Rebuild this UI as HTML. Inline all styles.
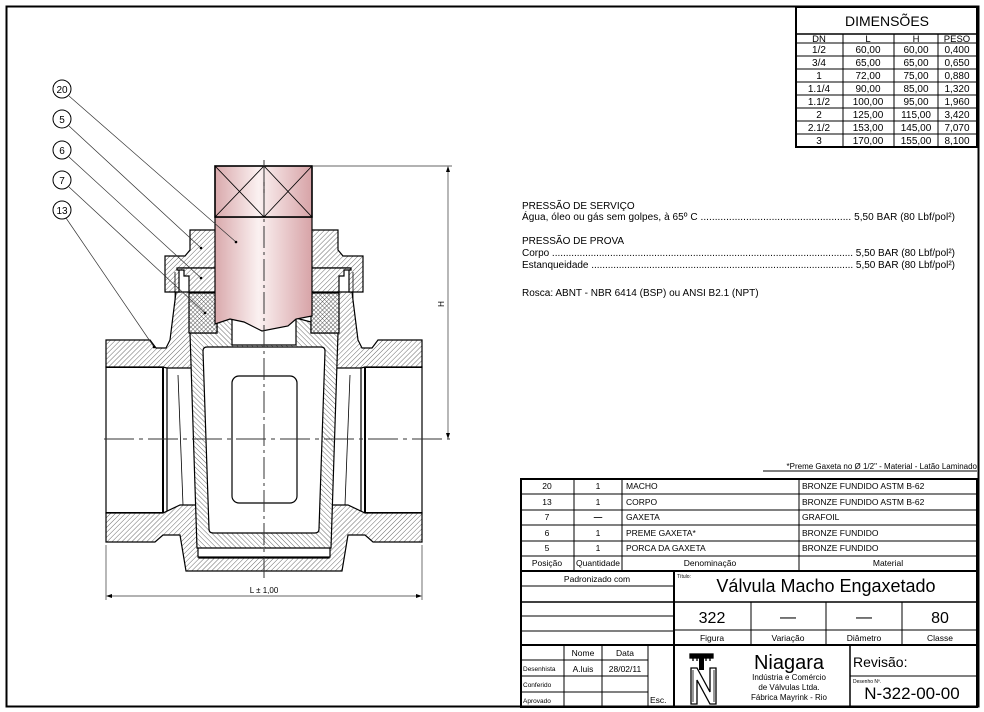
<!DOCTYPE html>
<html><head><meta charset="utf-8"><style>
html,body{margin:0;padding:0;background:#fff}
svg{display:block}
text{font-family:"Liberation Sans",sans-serif;fill:#000}
</style></head><body>
<svg width="984" height="712" viewBox="0 0 984 712" xmlns="http://www.w3.org/2000/svg">
<defs>
<pattern id="h" patternUnits="userSpaceOnUse" width="3.5" height="3.5" patternTransform="rotate(45)">
<rect width="4" height="4" fill="#fff"/><line x1="0" y1="0" x2="0" y2="4" stroke="#444" stroke-width="0.8"/></pattern>
<pattern id="h2" patternUnits="userSpaceOnUse" width="3.5" height="3.5" patternTransform="rotate(-45)">
<rect width="4" height="4" fill="#fff"/><line x1="0" y1="0" x2="0" y2="4" stroke="#444" stroke-width="0.8"/></pattern>
<pattern id="x" patternUnits="userSpaceOnUse" width="3" height="3" patternTransform="rotate(45)">
<rect width="3" height="3" fill="#fff"/><path d="M0 0V3M0 0H3" stroke="#333" stroke-width="0.8"/></pattern>
<linearGradient id="pk" x1="0" x2="1" y1="0" y2="0">
<stop offset="0" stop-color="#d9a9ac"/><stop offset="0.45" stop-color="#fbf1f1"/><stop offset="1" stop-color="#d7a3a7"/></linearGradient>
</defs>
<rect x="6.5" y="6.5" width="972" height="700" fill="none" stroke="#000" stroke-width="2"/>

<!-- DIMENSIONS TABLE -->
<g stroke="#000" fill="none">
<rect x="796" y="7" width="181" height="140" stroke-width="2"/>
<line x1="796" y1="34" x2="977" y2="34" stroke-width="1.5"/>
<line x1="796" y1="43" x2="977" y2="43"/>
<line x1="796" y1="56" x2="977" y2="56"/><line x1="796" y1="69" x2="977" y2="69"/>
<line x1="796" y1="82" x2="977" y2="82"/><line x1="796" y1="95" x2="977" y2="95"/>
<line x1="796" y1="108" x2="977" y2="108"/><line x1="796" y1="121" x2="977" y2="121"/>
<line x1="796" y1="134" x2="977" y2="134"/>
<line x1="843" y1="34" x2="843" y2="147"/><line x1="894" y1="34" x2="894" y2="147"/><line x1="938" y1="34" x2="938" y2="147"/>
</g>
<g font-size="10" text-anchor="middle">
<text x="887" y="26" font-size="14">DIMENSÕES</text>
<text x="819" y="42" font-size="9.5">DN</text><text x="868" y="42" font-size="9.5">L</text><text x="916" y="42" font-size="9.5">H</text><text x="957" y="42" font-size="9.5">PESO</text>
<text x="819" y="53">1/2</text><text x="868" y="53">60,00</text><text x="916" y="53">60,00</text><text x="957" y="53">0,400</text>
<text x="819" y="66">3/4</text><text x="868" y="66">65,00</text><text x="916" y="66">65,00</text><text x="957" y="66">0,650</text>
<text x="819" y="79">1</text><text x="868" y="79">72,00</text><text x="916" y="79">75,00</text><text x="957" y="79">0,880</text>
<text x="819" y="92">1.1/4</text><text x="868" y="92">90,00</text><text x="916" y="92">85,00</text><text x="957" y="92">1,320</text>
<text x="819" y="105">1.1/2</text><text x="868" y="105">100,00</text><text x="916" y="105">95,00</text><text x="957" y="105">1,960</text>
<text x="819" y="118">2</text><text x="868" y="118">125,00</text><text x="916" y="118">115,00</text><text x="957" y="118">3,420</text>
<text x="819" y="131">2.1/2</text><text x="868" y="131">153,00</text><text x="916" y="131">145,00</text><text x="957" y="131">7,070</text>
<text x="819" y="144">3</text><text x="868" y="144">170,00</text><text x="916" y="144">155,00</text><text x="957" y="144">8,100</text>
</g>

<!-- SPECS -->
<g font-size="10">
<text x="522" y="209">PRESSÃO DE SERVIÇO</text>
<text x="522" y="220" textLength="433" lengthAdjust="spacing">Água, óleo ou gás sem golpes, à 65º C ..................................................... 5,50 BAR (80 Lbf/pol²)</text>
<text x="522" y="244">PRESSÃO DE PROVA</text>
<text x="522" y="256" textLength="433" lengthAdjust="spacing">Corpo ............................................................................................................. 5,50 BAR (80 Lbf/pol²)</text>
<text x="522" y="268" textLength="433" lengthAdjust="spacing">Estanqueidade ............................................................................................... 5,50 BAR (80 Lbf/pol²)</text>
<text x="522" y="296">Rosca: ABNT - NBR 6414 (BSP) ou ANSI B2.1 (NPT)</text>
</g>

<!-- PARTS TABLE -->
<text x="977" y="469" font-size="8" text-anchor="end">*Preme Gaxeta no Ø 1/2" - Material - Latão Laminado</text>
<line x1="763" y1="471" x2="977" y2="471" stroke="#000"/>
<g stroke="#000" fill="none">
<rect x="521" y="479" width="456" height="228" stroke-width="2"/>
<line x1="521" y1="494" x2="977" y2="494"/><line x1="521" y1="510" x2="977" y2="510"/>
<line x1="521" y1="525" x2="977" y2="525"/><line x1="521" y1="541" x2="977" y2="541"/>
<line x1="521" y1="556" x2="977" y2="556"/>
<line x1="521" y1="571" x2="977" y2="571" stroke-width="2"/>
<line x1="574" y1="479" x2="574" y2="571"/><line x1="622" y1="479" x2="622" y2="571"/><line x1="799" y1="479" x2="799" y2="571"/>
<line x1="674" y1="571" x2="674" y2="707" stroke-width="2"/>
<line x1="521" y1="586" x2="674" y2="586"/><line x1="521" y1="602" x2="674" y2="602" stroke-width="1.5"/>
<line x1="521" y1="616" x2="674" y2="616"/><line x1="521" y1="631" x2="674" y2="631"/>
<line x1="674" y1="602" x2="977" y2="602" stroke-width="1.5"/>
<line x1="674" y1="630" x2="977" y2="630"/>
<line x1="751" y1="602" x2="751" y2="645"/><line x1="826" y1="602" x2="826" y2="645"/><line x1="902" y1="602" x2="902" y2="645"/>
<line x1="521" y1="645" x2="977" y2="645" stroke-width="2"/>
<line x1="521" y1="660" x2="648" y2="660"/><line x1="521" y1="676" x2="648" y2="676"/><line x1="521" y1="692" x2="648" y2="692"/>
<line x1="564" y1="645" x2="564" y2="707"/><line x1="602" y1="645" x2="602" y2="707"/><line x1="648" y1="645" x2="648" y2="707"/>
<line x1="850" y1="645" x2="850" y2="707" stroke-width="1.5"/>
<line x1="850" y1="676" x2="977" y2="676"/>
</g>
<g font-size="8.5">
<text x="547" y="489" text-anchor="middle">20</text><text x="598" y="489" text-anchor="middle">1</text><text x="626" y="489">MACHO</text><text x="802" y="489">BRONZE FUNDIDO ASTM B-62</text>
<text x="547" y="505" text-anchor="middle">13</text><text x="598" y="505" text-anchor="middle">1</text><text x="626" y="505">CORPO</text><text x="802" y="505">BRONZE FUNDIDO ASTM B-62</text>
<text x="547" y="520" text-anchor="middle">7</text><text x="598" y="520" text-anchor="middle" font-weight="bold">—</text><text x="626" y="520">GAXETA</text><text x="802" y="520">GRAFOIL</text>
<text x="547" y="536" text-anchor="middle">6</text><text x="598" y="536" text-anchor="middle">1</text><text x="626" y="536">PREME GAXETA*</text><text x="802" y="536">BRONZE FUNDIDO</text>
<text x="547" y="551" text-anchor="middle">5</text><text x="598" y="551" text-anchor="middle">1</text><text x="626" y="551">PORCA DA GAXETA</text><text x="802" y="551">BRONZE FUNDIDO</text>
<text x="547" y="566" text-anchor="middle">Posição</text><text x="598" y="566" text-anchor="middle">Quantidade</text><text x="710" y="566" text-anchor="middle">Denominação</text><text x="888" y="566" text-anchor="middle">Material</text>
<text x="597" y="582" text-anchor="middle">Padronizado com</text>
<text x="677" y="578" font-size="5">Título:</text>
<text x="712" y="641" text-anchor="middle">Figura</text><text x="788" y="641" text-anchor="middle">Variação</text><text x="864" y="641" text-anchor="middle">Diâmetro</text><text x="940" y="641" text-anchor="middle">Classe</text>
<text x="583" y="656" text-anchor="middle">Nome</text><text x="625" y="656" text-anchor="middle">Data</text>
<text x="583" y="672" text-anchor="middle">A.luis</text><text x="625" y="672" text-anchor="middle">28/02/11</text>
<text x="650" y="703">Esc.</text>
</g>
<g font-size="6.5">
<text x="523" y="671">Desenhista</text><text x="523" y="687">Conferido</text><text x="523" y="703">Aprovado</text>
<text x="853" y="683" font-size="5">Desenho Nº.</text>
</g>
<text x="826" y="592" font-size="18" text-anchor="middle">Válvula Macho Engaxetado</text>
<text x="712" y="623" font-size="16" text-anchor="middle">322</text>
<text x="788" y="622" font-size="16" text-anchor="middle">—</text>
<text x="864" y="622" font-size="16" text-anchor="middle">—</text>
<text x="940" y="623" font-size="16" text-anchor="middle">80</text>
<text x="789" y="669" font-size="20" text-anchor="middle">Niagara</text>
<g font-size="8" text-anchor="middle"><text x="789" y="680">Indústria e Comércio</text><text x="789" y="690">de Válvulas Ltda.</text><text x="789" y="700">Fábrica Mayrink - Rio</text></g>
<text x="853" y="667" font-size="14">Revisão:</text>
<text x="912" y="699" font-size="17" text-anchor="middle">N-322-00-00</text>
<!-- logo -->
<g stroke="#000" fill="none" stroke-width="1.3">
<rect x="690" y="654" width="23" height="4" fill="#000"/>
<line x1="693" y1="658" x2="693" y2="661"/><line x1="697" y1="658" x2="697" y2="661"/><line x1="706" y1="658" x2="706" y2="661"/><line x1="710" y1="658" x2="710" y2="661"/>
<rect x="699" y="658" width="5" height="12" fill="#000" stroke="none"/>
<path d="M691 668V704H697V680L710 704H716V668H710V692L697 668Z"/>
<path d="M693 670V702M714 670V702" stroke-width="0.8"/>
</g>

<!-- BALLOONS -->
<g stroke="#000" fill="#fff" stroke-width="1">
<circle cx="62" cy="89" r="9"/><circle cx="62" cy="119" r="9"/><circle cx="62" cy="150" r="9"/><circle cx="62" cy="180" r="9"/><circle cx="62" cy="210" r="9"/>
</g>
<g font-size="10" text-anchor="middle"><text x="62" y="93">20</text><text x="62" y="123">5</text><text x="62" y="154">6</text><text x="62" y="184">7</text><text x="62" y="214">13</text></g>

<!-- DRAWING -->
<g stroke="#000" stroke-width="1.2">
<rect x="106" y="367" width="57" height="146" fill="#fff"/>
<line x1="163" y1="367" x2="163" y2="513" stroke-width="2"/>
<line x1="167" y1="367" x2="167" y2="513"/>
<line x1="178" y1="375" x2="183" y2="505" stroke-width="0.8"/>
<rect x="365" y="367" width="57" height="146" fill="#fff"/>
<line x1="365" y1="367" x2="365" y2="513" stroke-width="2"/>
<line x1="361" y1="367" x2="361" y2="513"/>
<line x1="350" y1="375" x2="345" y2="505" stroke-width="0.8"/>
<line x1="106" y1="367" x2="163" y2="367" stroke-width="2"/><line x1="365" y1="367" x2="422" y2="367" stroke-width="2"/>
<line x1="106" y1="513" x2="163" y2="513" stroke-width="2"/><line x1="365" y1="513" x2="422" y2="513" stroke-width="2"/>
<path d="M106 340H150L156 348H166L170 340L176 292H189L192 368H167L163 367H106Z" fill="url(#h)"/>
<path d="M422 340H378L372 348H362L358 340L352 292H339L336 368H361L365 367H422Z" fill="url(#h)"/>
<path d="M106 513H163L180 505H196L199 558H329L332 505H348L365 513H422V542H373L365 535H348L342 571H186L180 535H163L155 542H106Z" fill="url(#h)"/>
<rect x="198" y="546" width="132" height="11" fill="#fff"/>
<path d="M190 333H217V322L232 318V345H296V318L311 322V333H338L331 548H197Z" fill="url(#h2)"/>
<path d="M207 347H321Q325 347 325 351L319 529Q319 533 315 533H213Q209 533 209 529L203 351Q203 347 207 347Z" fill="#fff"/>
<rect x="232" y="376" width="65" height="127" rx="7" fill="#fff"/>
<path d="M190 230H217V268H179V292H165V256H185L190 250Z" fill="url(#h)"/>
<path d="M338 230H311V268H349V292H363V256H343L338 250Z" fill="url(#h)"/>
<path d="M177 268H217V292H189V276H184V270H177Z" fill="url(#h)"/>
<path d="M351 268H311V292H339V276H344V270H351Z" fill="url(#h)"/>
<line x1="175" y1="272" x2="175" y2="303" stroke-width="0.8"/><line x1="353" y1="272" x2="353" y2="303" stroke-width="0.8"/>
<rect x="189" y="293" width="28" height="40" fill="url(#x)"/>
<rect x="311" y="293" width="28" height="40" fill="url(#x)"/>
<path d="M215 217H312V316L296 319L288 326L262 331L244 322L230 319L215 324Z" fill="url(#pk)"/>
<rect x="215" y="166" width="97" height="51" fill="url(#pk)" stroke-width="1.6"/>
<g stroke-width="0.9" fill="none">
<line x1="264" y1="166" x2="264" y2="217"/>
<line x1="215" y1="166" x2="264" y2="217"/><line x1="264" y1="166" x2="215" y2="217"/>
<line x1="264" y1="166" x2="312" y2="217"/><line x1="312" y1="166" x2="264" y2="217"/>
</g>
</g>
<g stroke="#333" stroke-width="1" fill="none">
<line x1="264" y1="160" x2="264" y2="578" stroke-dasharray="22,4,3,4"/>
<line x1="104" y1="439" x2="450" y2="439" stroke-dasharray="30,5,4,5"/>
<line x1="312" y1="166" x2="452" y2="166" stroke-width="0.7"/>
<line x1="448" y1="168" x2="448" y2="437" stroke-width="0.7"/>
<line x1="106" y1="545" x2="106" y2="600" stroke-width="0.7"/>
<line x1="422" y1="545" x2="422" y2="600" stroke-width="0.7"/>
<line x1="108" y1="596" x2="420" y2="596" stroke-width="0.7"/>
<line x1="69" y1="96" x2="236" y2="242" stroke-width="0.7"/>
<line x1="69" y1="126" x2="201" y2="248" stroke-width="0.7"/>
<line x1="69" y1="157" x2="201" y2="278" stroke-width="0.7"/>
<line x1="69" y1="187" x2="205" y2="313" stroke-width="0.7"/>
<line x1="66" y1="218" x2="154" y2="347" stroke-width="0.7"/>
</g>
<g fill="#000"><circle cx="236" cy="242" r="1.3"/><circle cx="201" cy="248" r="1.3"/><circle cx="201" cy="278" r="1.3"/><circle cx="205" cy="313" r="1.3"/><circle cx="154" cy="347" r="1.3"/>
<path d="M448 166l-2 6h4z"/><path d="M448 439l-2 -6h4z"/><path d="M106 596l6 -2v4z"/><path d="M422 596l-6 -2v4z"/></g>
<text x="264" y="593" font-size="8" text-anchor="middle">L ± 1,00</text>
<text x="0" y="0" font-size="8" text-anchor="middle" transform="translate(444 304) rotate(-90)">H</text>
</svg>
</body></html>
